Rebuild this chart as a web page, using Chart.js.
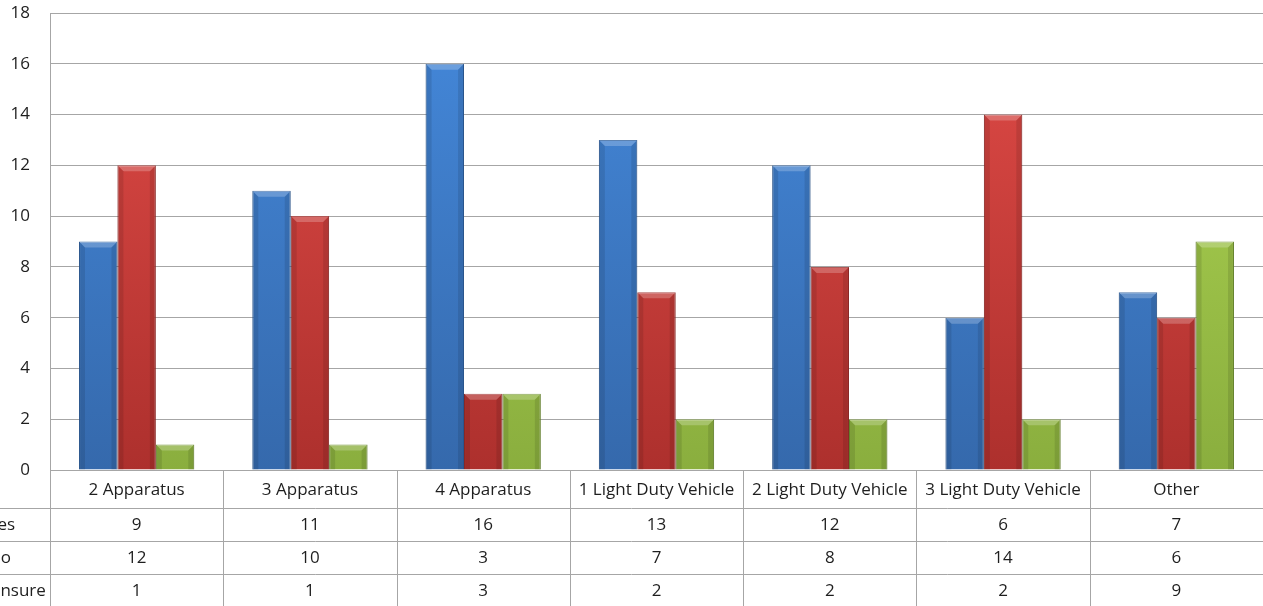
<!DOCTYPE html>
<html>
<head>
<meta charset="utf-8">
<script src="https://cdn.jsdelivr.net/npm/chart.js@4/dist/chart.umd.min.js"></script>
<style>
  html, body { margin: 0; padding: 0; background: #fff; overflow: hidden; }
  #wrap { width: 1263px; height: 606px; }
</style>
</head>
<body>
<div id="wrap"><canvas id="chart"></canvas></div>
<script>
// Chart data
const categories = ['2 Apparatus', '3 Apparatus', '4 Apparatus', '1 Light Duty Vehicle', '2 Light Duty Vehicle', '3 Light Duty Vehicle', 'Other'];
const yesValues = [9, 11, 16, 13, 12, 6, 7];
const noValues = [12, 10, 3, 7, 8, 14, 6];
const unsureValues = [1, 1, 3, 2, 2, 2, 9];
const seriesNames = ['Yes', 'No', 'Unsure'];
const yTicks = [0, 2, 4, 6, 8, 10, 12, 14, 16, 18];

const FONT = 'Open Sans';
const FONT_SIZE = 17;
const ROW_H = 33;
const FIRST_ROW_H = 38;
const LINE = '#a6a6a6';
const TEXT = '#1e1e1e';

// vertical gradient for the bar fill
function barFill(top, bottom) {
  return function (ctx) {
    const area = ctx.chart.chartArea;
    if (!area) return bottom;
    const g = ctx.chart.ctx.createLinearGradient(0, area.top, 0, area.bottom);
    g.addColorStop(0, top);
    g.addColorStop(1, bottom);
    return g;
  };
}

// bevel look on each bar (light top strip, darker sides)
const bevelPlugin = {
  id: 'bevel',
  afterDatasetsDraw(chart) {
    const c = chart.ctx;
    chart.data.datasets.forEach((ds, i) => {
      chart.getDatasetMeta(i).data.forEach(bar => {
        const l = bar.x - bar.width / 2, r = bar.x + bar.width / 2;
        const t = bar.y, b = bar.base;
        const e = 6;
        c.save();
        c.fillStyle = 'rgba(255,255,255,0.22)';
        c.beginPath();
        c.moveTo(l, t); c.lineTo(r, t); c.lineTo(r - e, t + e); c.lineTo(l + e, t + e);
        c.closePath(); c.fill();
        c.fillStyle = 'rgba(0,0,0,0.10)';
        c.beginPath();
        c.moveTo(l, t); c.lineTo(l + e, t + e); c.lineTo(l + e, b); c.lineTo(l, b);
        c.closePath(); c.fill();
        c.beginPath();
        c.moveTo(r, t); c.lineTo(r - e, t + e); c.lineTo(r - e, b); c.lineTo(r, b);
        c.closePath(); c.fill();
        c.restore();
      });
    });
  }
};

// data table under the plot
const tablePlugin = {
  id: 'dataTable',
  afterDraw(chart) {
    const c = chart.ctx;
    const x = chart.scales.x;
    const area = chart.chartArea;
    const top = area.bottom;
    const n = categories.length;
    const half = (x.getPixelForValue(1) - x.getPixelForValue(0)) / 2;
    const rowTops = [top, top + FIRST_ROW_H, top + FIRST_ROW_H + ROW_H, top + FIRST_ROW_H + 2 * ROW_H];
    const bottom = top + FIRST_ROW_H + 3 * ROW_H;
    c.save();
    c.strokeStyle = LINE;
    c.lineWidth = 1;
    // horizontal lines
    for (let k = 1; k < rowTops.length; k++) {
      const y = Math.round(rowTops[k]) + 0.5;
      c.beginPath(); c.moveTo(0, y); c.lineTo(area.right, y); c.stroke();
    }
    // vertical lines
    for (let i = 0; i <= n; i++) {
      const px = Math.round(x.getPixelForValue(i) - half) + 0.5;
      c.beginPath(); c.moveTo(px, top); c.lineTo(px, bottom + 5); c.stroke();
    }
    c.fillStyle = TEXT;
    c.font = FONT_SIZE + 'px "' + FONT + '"';
    c.textBaseline = 'middle';
    c.textAlign = 'center';
    const rows = [yesValues, noValues, unsureValues];
    categories.forEach((cat, i) => {
      const cx = x.getPixelForValue(i);
      c.fillText(cat, cx, (rowTops[0] + rowTops[1]) / 2 + 1);
      rows.forEach((vals, k) => {
        const ry = (rowTops[k + 1] + (k < 2 ? rowTops[k + 2] : bottom)) / 2 + 1;
        c.fillText(String(vals[i]), cx, ry);
      });
    });
    // series names, clipped at the left edge
    c.textAlign = 'left';
    seriesNames.forEach((name, k) => {
      const ry = (rowTops[k + 1] + (k < 2 ? rowTops[k + 2] : bottom)) / 2 + 1;
      c.fillText(name, -12, ry);
    });
    c.restore();
  }
};

new Chart(document.getElementById('chart'), {
  type: 'bar',
  data: {
    labels: categories,
    datasets: [
      { label: seriesNames[0], data: yesValues, backgroundColor: barFill('#4488da', '#3569ac'), borderColor: '#2f5f9c', borderWidth: 1 },
      { label: seriesNames[1], data: noValues, backgroundColor: barFill('#e04b47', '#ad302d'), borderColor: '#9a2b28', borderWidth: 1 },
      { label: seriesNames[2], data: unsureValues, backgroundColor: barFill('#afd653', '#8aae3e'), borderColor: '#6f8f30', borderWidth: 1 }
    ]
  },
  options: {
    responsive: true,
    maintainAspectRatio: false,
    animation: false,
    layout: { padding: { top: 13, right: 0, bottom: FIRST_ROW_H + 3 * ROW_H - 9, left: 0 } },
    plugins: {
      legend: { display: false },
      tooltip: { enabled: false }
    },
    datasets: {
      bar: { categoryPercentage: 0.665, barPercentage: 1 }
    },
    scales: {
      x: {
        ticks: { display: false },
        grid: { display: false },
        border: { display: true, color: LINE }
      },
      y: {
        min: 0,
        max: 18,
        afterBuildTicks(scale) { scale.ticks = yTicks.map(v => ({ value: v })); },
        afterFit(scale) {
          scale.width = 50;
          scale.paddingTop = 0;
          scale.paddingBottom = 0;
        },
        ticks: { color: TEXT, font: { family: FONT, size: FONT_SIZE }, padding: 20 },
        grid: { color: LINE, drawTicks: false },
        border: { display: true, color: LINE }
      }
    }
  },
  plugins: [bevelPlugin, tablePlugin]
});
</script>
</body>
</html>
